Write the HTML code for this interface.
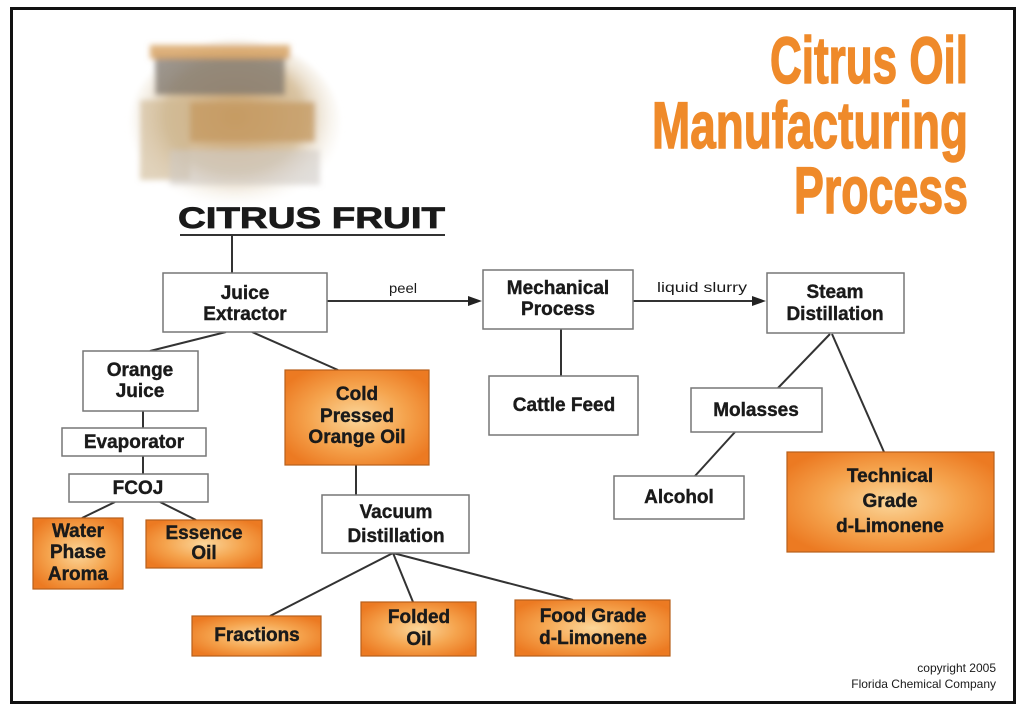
<!DOCTYPE html>
<html><head><meta charset="utf-8"><style>
html,body{margin:0;padding:0;background:#fff;}
svg{display:block;}
text{font-family:"Liberation Sans",sans-serif;font-weight:bold;fill:#1a1a1a;}
</style></head><body>
<svg width="1024" height="709" viewBox="0 0 1024 709" xmlns="http://www.w3.org/2000/svg">
<defs>
<radialGradient id="og" cx="50%" cy="50%" r="60%">
<stop offset="0" stop-color="#fbd69a"/><stop offset="0.55" stop-color="#f5a44e"/><stop offset="1" stop-color="#ec7a22"/>
</radialGradient>
<radialGradient id="ph" cx="50%" cy="45%" r="55%">
<stop offset="0" stop-color="#c9a06a"/><stop offset="0.6" stop-color="#d9c4a3"/><stop offset="1" stop-color="#ffffff" stop-opacity="0"/>
</radialGradient>
<filter id="bl"><feGaussianBlur stdDeviation="3"/></filter>
</defs>
<rect x="0" y="0" width="1024" height="709" fill="#fff"/>
<rect x="11.5" y="8.5" width="1003" height="694" fill="none" stroke="#111" stroke-width="3"/>
<g filter="url(#bl)">
<ellipse cx="235" cy="125" rx="105" ry="85" fill="url(#ph)"/>
<rect x="155" y="55" width="130" height="40" fill="#7d766c" opacity="0.75"/>
<rect x="150" y="45" width="140" height="14" fill="#d8a566" opacity="0.85"/>
<rect x="190" y="102" width="125" height="40" fill="#c49a62" opacity="0.75"/>
<rect x="140" y="100" width="50" height="80" fill="#cdb590" opacity="0.6"/>
<rect x="170" y="150" width="150" height="35" fill="#cfcac4" opacity="0.6"/>
</g>
<g style="fill:#ef8a2a;stroke:#ef8a2a;stroke-width:1.5">
<text x="770" y="83" font-size="66" textLength="198" lengthAdjust="spacingAndGlyphs" style="fill:#ef8a2a">Citrus Oil</text>
<text x="652" y="148" font-size="66" textLength="316" lengthAdjust="spacingAndGlyphs" style="fill:#ef8a2a">Manufacturing</text>
<text x="794" y="213" font-size="66" textLength="174" lengthAdjust="spacingAndGlyphs" style="fill:#ef8a2a">Process</text>
</g>
<text x="178" y="228" font-size="30" textLength="267" lengthAdjust="spacingAndGlyphs" stroke="#1a1a1a" stroke-width="0.8">CITRUS FRUIT</text>
<line x1="180" y1="235" x2="445" y2="235" stroke="#333" stroke-width="2"/>
<g stroke="#333" stroke-width="2" fill="none">
<line x1="232" y1="236" x2="232" y2="273"/>
<line x1="327" y1="301" x2="470" y2="301"/>
<line x1="633" y1="301" x2="755" y2="301"/>
<line x1="561" y1="329" x2="561" y2="376"/>
<line x1="226" y1="332" x2="150" y2="351"/>
<line x1="252" y1="332" x2="338" y2="370"/>
<line x1="143" y1="411" x2="143" y2="428"/>
<line x1="143" y1="456" x2="143" y2="474"/>
<line x1="115" y1="502" x2="82" y2="518"/>
<line x1="160" y1="502" x2="196" y2="520"/>
<line x1="356" y1="465" x2="356" y2="495"/>
<line x1="393" y1="553" x2="270" y2="616"/>
<line x1="393" y1="553" x2="413" y2="602"/>
<line x1="393" y1="553" x2="573" y2="600"/>
<line x1="830" y1="334" x2="778" y2="388"/>
<line x1="832" y1="334" x2="884" y2="452"/>
<line x1="735" y1="432" x2="695" y2="476"/>
</g>
<polygon points="482,301 468,296 468,306" fill="#222"/>
<polygon points="766,301 752,296 752,306" fill="#222"/>
<text x="389" y="293" font-size="14" style="font-weight:normal" textLength="28" lengthAdjust="spacingAndGlyphs">peel</text>
<text x="657" y="292" font-size="14" style="font-weight:normal" textLength="90" lengthAdjust="spacingAndGlyphs">liquid slurry</text>
<g fill="#fff" stroke="#777" stroke-width="1.5">
<rect x="163" y="273" width="164" height="59"/>
<rect x="483" y="270" width="150" height="59"/>
<rect x="767" y="273" width="137" height="60"/>
<rect x="489" y="376" width="149" height="59"/>
<rect x="691" y="388" width="131" height="44"/>
<rect x="614" y="476" width="130" height="43"/>
<rect x="83" y="351" width="115" height="60"/>
<rect x="62" y="428" width="144" height="28"/>
<rect x="69" y="474" width="139" height="28"/>
<rect x="322" y="495" width="147" height="58"/>
</g>
<g fill="url(#og)" stroke="#b8601c" stroke-width="1.2">
<rect x="787" y="452" width="207" height="100"/>
<rect x="33" y="518" width="90" height="71"/>
<rect x="146" y="520" width="116" height="48"/>
<rect x="285" y="370" width="144" height="95"/>
<rect x="192" y="616" width="129" height="40"/>
<rect x="361" y="602" width="115" height="54"/>
<rect x="515" y="600" width="155" height="56"/>
</g>
<g font-size="19" text-anchor="middle" stroke="#1a1a1a" stroke-width="0.4">
<text x="245" y="299">Juice</text><text x="245" y="320">Extractor</text>
<text x="558" y="294">Mechanical</text><text x="558" y="315">Process</text>
<text x="835" y="298">Steam</text><text x="835" y="320">Distillation</text>
<text x="564" y="411">Cattle Feed</text>
<text x="756" y="416">Molasses</text>
<text x="679" y="503">Alcohol</text>
<text x="890" y="482">Technical</text><text x="890" y="507">Grade</text><text x="890" y="532">d-Limonene</text>
<text x="140" y="376">Orange</text><text x="140" y="397">Juice</text>
<text x="134" y="448">Evaporator</text>
<text x="138" y="494">FCOJ</text>
<text x="78" y="537">Water</text><text x="78" y="558">Phase</text><text x="78" y="580">Aroma</text>
<text x="204" y="539">Essence</text><text x="204" y="559">Oil</text>
<text x="357" y="400">Cold</text><text x="357" y="422">Pressed</text><text x="357" y="443">Orange Oil</text>
<text x="396" y="518">Vacuum</text><text x="396" y="542">Distillation</text>
<text x="257" y="641">Fractions</text>
<text x="419" y="623">Folded</text><text x="419" y="645">Oil</text>
<text x="593" y="622">Food Grade</text><text x="593" y="644">d-Limonene</text>
</g>
<g font-size="12" text-anchor="end">
<text x="996" y="672" style="font-weight:normal">copyright 2005</text>
<text x="996" y="688" style="font-weight:normal">Florida Chemical Company</text>
</g>
</svg>
</body></html>
